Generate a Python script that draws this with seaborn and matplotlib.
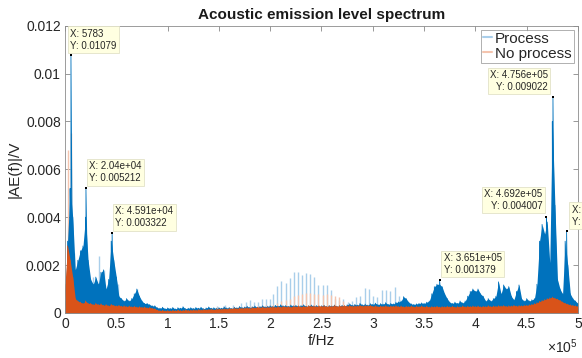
import numpy as np
import pandas as pd
import matplotlib
matplotlib.use("Agg")
import matplotlib.pyplot as plt
from matplotlib.lines import Line2D
import seaborn as sns

# spectrum body, max level per 2.5 kHz bin, in units of 1e-4 V
bin_freq = np.arange(0, 500001, 2500)
process_body = [
    5, 30, 52, 40, 18, 22, 26, 28, 40, 22,
    14, 12, 15, 12, 17, 18, 10, 14, 30, 22,
    15, 7, 6, 5, 6, 5, 6, 8, 10, 7,
    5, 4, 4, 3.5, 3, 3, 2.2, 2.0, 2.4, 1.8,
    2.1, 1.9, 2.3, 1.7, 2.2, 2.0, 2.6, 1.8, 2.0, 2.2,
    1.9, 2.3, 2.0, 2.4, 1.8, 2.1, 2.5, 2.0, 2.2, 1.9,
    2.2, 2.0, 2.6, 2.1, 2.3, 1.9, 2.4, 2.2, 2.7, 2.3,
    2.5, 2.8, 2.3, 2.6, 2.9, 2.4, 2.7, 3.0, 2.6, 2.8,
    3.0, 2.7, 3.2, 2.9, 3.4, 3.0, 3.1, 2.8, 3.3, 3.0,
    3.2, 2.9, 3.1, 3.4, 2.8, 3.0, 3.3, 2.9, 3.1, 2.8,
    3.0, 3.2, 2.7, 3.1, 2.9, 3.3, 2.8, 3.0, 3.2, 2.9,
    3.4, 3.8, 3.2, 3.6, 3.3, 4.0, 3.4, 3.7, 3.3, 3.9,
    3.6, 4.1, 3.5, 3.9, 3.7, 4.3, 3.6, 4.0, 3.8, 4.4,
    4.6, 5.0, 6.8, 6.0, 4.5, 3.8, 3.6, 3.8, 4.0, 4.2,
    4.0, 4.5, 5.0, 8.0, 11.0, 12.0, 12.0, 11.0, 8.0, 6.0,
    4.5, 4.0, 4.5, 4.0, 5.0, 4.2, 5.0, 7.0, 9.0, 10.0,
    9.0, 10.0, 8.0, 7.0, 5.0, 6.0, 5.0, 6.0, 7.0, 13.0,
    8.0, 11.7, 10.0, 11.0, 7.0, 5.5, 9.0, 11.7, 6.0, 5.0,
    6.0, 5.0, 5.5, 6.0, 12.0, 30.0, 37.0, 33.0, 38.0, 21.0,
    80.0, 45.0, 14.0, 10.0, 8.0, 30.0, 20.0, 8.0, 6.0, 5.0,
    4.0,
]
noproc_body = [
    12, 28, 22, 15, 6, 5, 4.5, 4, 5, 4,
    4, 3.5, 4, 3.5, 3.8, 3.2, 3.5, 3.0, 3.6, 3.2,
    3.0, 3.2, 2.8, 3.0, 2.7, 2.9, 2.6, 2.8, 2.5, 2.6,
    2.4, 2.5, 2.2, 2.3, 2.0, 1.8, 1.2, 1.0, 1.1, 0.9,
    1.0, 0.9, 1.1, 1.0, 1.2, 1.0, 1.1, 1.3, 1.1, 1.2,
    1.3, 1.2, 1.4, 1.3, 1.5, 1.4, 1.5, 1.6, 1.4, 1.6,
    1.7, 1.6, 1.8, 1.7, 1.9, 1.8, 2.0, 1.9, 2.1, 2.0,
    2.1, 2.2, 2.0, 2.3, 2.2, 2.4, 2.3, 2.5, 2.3, 2.4,
    2.5, 2.6, 2.4, 2.7, 2.5, 2.8, 2.6, 2.7, 2.5, 2.8,
    2.7, 2.9, 2.6, 2.8, 2.7, 3.0, 2.8, 2.9, 2.7, 3.0,
    2.8, 3.0, 2.7, 2.9, 2.8, 3.1, 2.8, 3.0, 2.9, 3.1,
    2.9, 3.1, 2.8, 3.0, 2.9, 3.2, 2.9, 3.1, 3.0, 3.2,
    2.8, 3.0, 2.7, 2.9, 2.8, 3.0, 2.7, 2.9, 2.8, 3.0,
    2.7, 2.9, 2.6, 2.8, 2.7, 2.9, 2.6, 2.8, 2.7, 2.9,
    2.6, 2.8, 2.5, 2.7, 2.6, 2.8, 2.5, 2.7, 2.6, 2.8,
    2.6, 2.8, 2.5, 2.7, 2.6, 2.9, 2.6, 2.8, 2.7, 2.9,
    2.7, 2.9, 2.6, 2.8, 2.7, 3.0, 2.7, 2.9, 2.8, 3.0,
    2.9, 3.1, 2.8, 3.0, 2.9, 3.2, 2.9, 3.1, 3.0, 3.2,
    3.2, 3.4, 3.6, 3.9, 4.3, 4.8, 5.2, 5.6, 6.0, 6.3,
    6.6, 6.2, 5.8, 5.3, 4.6, 4.1, 3.7, 3.4, 3.2, 3.0,
    2.8,
]

# marked peaks (data tips)
peak_freq = [5783, 20400, 45910, 365100, 469200, 475600, 488900]
peak_val = [0.01079, 0.005212, 0.003322, 0.001379, 0.004007, 0.009022, 0.003437]
peak_labels = [
    "X: 5783\nY: 0.01079",
    "X: 2.04e+04\nY: 0.005212",
    "X: 4.591e+04\nY: 0.003322",
    "X: 3.651e+05\nY: 0.001379",
    "X: 4.692e+05\nY: 0.004007",
    "X: 4.756e+05\nY: 0.009022",
    "X: 4.889e+05\nY: 0.003437",
]

# thin isolated spikes (kHz, 1e-4 V)
comb_freq = [148, 156, 164, 172, 176, 180, 184, 188, 192, 196, 200, 203, 207, 211,
             215, 219, 223, 227, 231, 235, 239, 243, 247, 251, 255, 259, 263, 267,
             271, 276, 280, 284, 288, 292, 296, 300, 304, 309, 313, 317, 322, 326, 330]
comb_process = [3, 3.5, 3.5, 4, 4.5, 5.4, 4.8, 4.5, 6, 6, 6, 8, 11.4, 13.5,
                12.5, 14.5, 17, 17, 16, 16.7, 16.4, 15, 11.7, 11.5, 11.5, 9.6, 6, 5.5,
                5.7, 4.5, 5, 6.8, 7, 10.4, 10, 7, 6.8, 9.5, 9.5, 9, 11, 7, 6]
comb_noproc = [2.5, 2.5, 2.6, 2.7, 2.8, 2.8, 3, 3, 3, 3.2, 3.3, 3.5, 4, 5,
               5.5, 6, 7, 7.5, 8, 8.2, 8.4, 8, 8, 7.5, 8, 7.5, 7, 6.5,
               5, 3.5, 3.2, 3, 3, 3, 3, 3, 3, 3, 3, 3, 3, 3, 3]
spike_freq_process = [9, 12.5, 27, 33.5, 38, 52, 70.5]
spike_val_process = [25, 22, 15, 24, 18, 12, 10]
spike_freq_noproc = [3.2, 5.8]
spike_val_noproc = [68, 75]

xticks = [0, 50000, 100000, 150000, 200000, 250000, 300000, 350000, 400000, 450000, 500000]
xtick_labels = ["0", "0.5", "1", "1.5", "2", "2.5", "3", "3.5", "4", "4.5", "5"]
yticks = [0, 0.002, 0.004, 0.006, 0.008, 0.01, 0.012]
ytick_labels = ["0", "0.002", "0.004", "0.006", "0.008", "0.01", "0.012"]

zeros = np.zeros(len(bin_freq))
pk_zeros = np.zeros(len(peak_freq))
proc = pd.DataFrame({
    "f": np.concatenate([bin_freq, bin_freq, peak_freq, peak_freq]),
    "amp": np.concatenate([zeros, np.array(process_body) * 1e-4, pk_zeros, peak_val]),
    "series": "Process",
})
noproc = pd.DataFrame({
    "f": np.concatenate([bin_freq, bin_freq]),
    "amp": np.concatenate([zeros, np.array(noproc_body) * 1e-4]),
    "series": "No process",
})
df = pd.concat([proc, noproc], ignore_index=True)

sns.set_theme(style="white")
plt.rcParams["font.family"] = ["Liberation Sans", "DejaVu Sans"]
plt.rcParams["mathtext.fontset"] = "custom"
plt.rcParams["mathtext.rm"] = "Liberation Sans"

fig = plt.figure(figsize=(5.82, 3.58), dpi=100)
ax = fig.add_axes([0.1117, 0.1257, 0.8814, 0.8025])

blue, orange = "#0072BD", "#D95319"
light_blue, light_orange = "#A9CEEA", "#F4C4AE"

ax.vlines(np.array(comb_freq) * 1000, 0, np.array(comb_process) * 1e-4,
          colors=light_blue, lw=1.0, zorder=1)
ax.vlines(np.array(spike_freq_process) * 1000, 0, np.array(spike_val_process) * 1e-4,
          colors=light_blue, lw=1.0, zorder=1)
ax.vlines(np.array(comb_freq) * 1000, 0, np.array(comb_noproc) * 1e-4,
          colors=light_orange, lw=1.0, zorder=1.2)
ax.vlines(np.array(spike_freq_noproc) * 1000, 0, np.array(spike_val_noproc) * 1e-4,
          colors=light_orange, lw=1.0, zorder=1)

# dense body of each spectrum
ax.fill_between(bin_freq, 0, np.array(process_body) * 1e-4, color=blue, lw=0, zorder=1.5)
ax.fill_between(bin_freq, 0, np.array(noproc_body) * 1e-4, color=orange, lw=0, zorder=2.5)

sns.lineplot(data=df[df.series == "Process"], x="f", y="amp", color=blue,
             estimator=None, linewidth=0.6, legend=False, ax=ax, zorder=2)
sns.lineplot(data=df[df.series == "No process"], x="f", y="amp", color=orange,
             estimator=None, linewidth=0.6, legend=False, ax=ax, zorder=3)

ax.scatter(peak_freq, peak_val, marker="s", s=4, color="black", zorder=5, linewidths=0)
offsets = [(-1, 4), (3, 5), (3, 5), (4, 5), (-4, 6), (-5, 5), (5, 4)]
aligns = ["left", "left", "left", "left", "right", "right", "left"]
for fx, fy, lab, off, ha in zip(peak_freq, peak_val, peak_labels, offsets, aligns):
    ax.annotate(lab, (fx, fy), xytext=off, textcoords="offset pixels",
                ha=ha, va="bottom", fontsize=7, color="#262626", zorder=6,
                annotation_clip=False, linespacing=1.25,
                bbox=dict(boxstyle="square,pad=0.25", fc="#FFFFE1", ec="#E2E2C8", lw=0.6))

ax.set_xlim(0, 500000)
ax.set_ylim(0, 0.012)
ax.set_xticks(xticks)
ax.set_xticklabels(xtick_labels)
ax.set_yticks(yticks)
ax.set_yticklabels(ytick_labels)
ax.tick_params(direction="in", length=3.5, width=0.6, colors="#888888",
               labelcolor="#262626", labelsize=10, top=True, right=True,
               bottom=True, left=True, pad=3)
for sp in ax.spines.values():
    sp.set_color("#8C8C8C")
    sp.set_linewidth(0.6)
    sp.set_zorder(4)

ax.set_xlabel("f/Hz", fontsize=11, color="#262626", labelpad=2)
ax.set_ylabel("|AE(f)|/V", fontsize=11, color="#262626", labelpad=3)
ax.set_title("Acoustic emission level spectrum", fontsize=11, fontweight="bold",
             color="#1a1a1a", pad=5)
ax.text(1.0, -0.14, r"$\times\mathregular{10^5}$", transform=ax.transAxes,
        ha="right", va="baseline", fontsize=10, color="#262626")

handles = [Line2D([], [], color=light_blue, lw=1.5), Line2D([], [], color=light_orange, lw=1.5)]
leg = ax.legend(handles, ["Process", "No process"], loc="upper right", fontsize=11,
                frameon=True, fancybox=False, handlelength=0.6, handletextpad=0.2,
                borderpad=0.15, labelspacing=0.05, borderaxespad=0.25)
leg.get_frame().set_edgecolor("#8C8C8C")
leg.get_frame().set_linewidth(0.6)
leg.set_zorder(7)

fig.savefig("out.png", dpi=100)
